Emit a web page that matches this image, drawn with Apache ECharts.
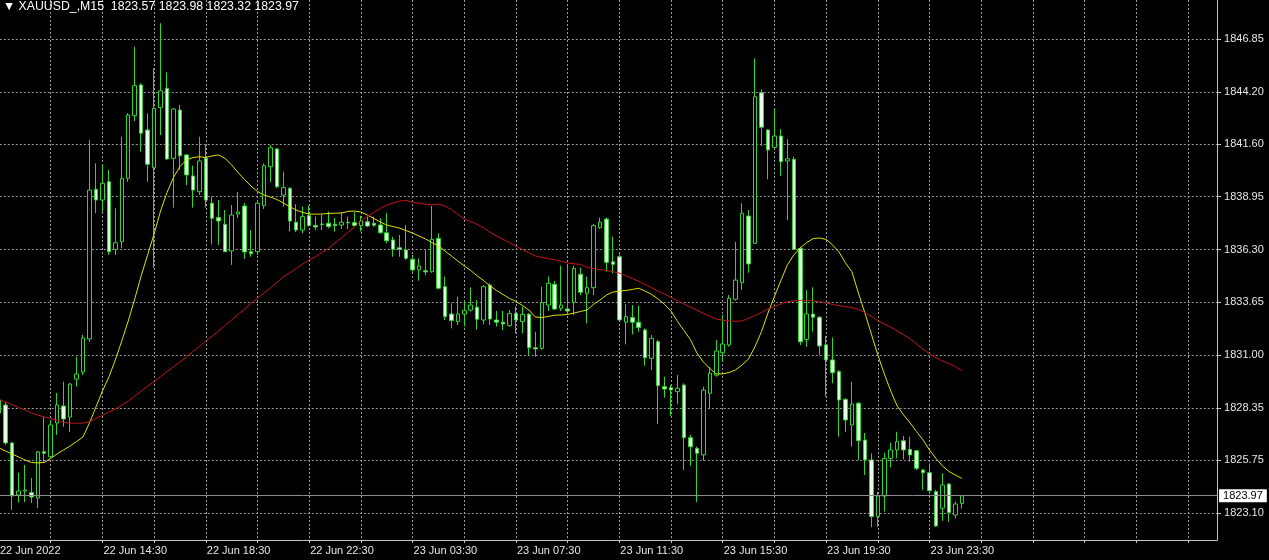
<!DOCTYPE html>
<html><head><meta charset="utf-8">
<script src="https://cdn.jsdelivr.net/npm/echarts@6/dist/echarts.min.js"></script>
<style>html,body{margin:0;padding:0;background:#000;}#c{width:1269px;height:560px;}</style>
</head><body><div id="c"></div>
<script>
const symbolName = 'XAUUSD_,M15';
// x-axis labels shown every 16 bars (4 hours)
const tickLabels = ['22 Jun 2022','22 Jun 14:30','22 Jun 18:30','22 Jun 22:30','23 Jun 03:30','23 Jun 07:30','23 Jun 11:30','23 Jun 15:30','23 Jun 19:30','23 Jun 23:30'];
// price axis labels
const priceTicks = [1846.85,1844.20,1841.60,1838.95,1836.30,1833.65,1831.00,1828.35,1825.75,1823.10];

const opens = [1828.76,1828.51,1826.61,1824.00,1824.20,1824.12,1823.85,1826.17,1825.92,1827.61,1828.46,1827.91,1829.81,1830.17,1831.82,1839.32,1838.78,1839.70,1836.31,1836.69,1839.87,1843.01,1844.55,1842.29,1840.40,1843.41,1844.38,1840.87,1843.29,1841.04,1839.99,1839.20,1840.87,1838.62,1837.90,1837.57,1836.23,1838.08,1838.48,1836.19,1836.19,1838.50,1840.45,1841.34,1839.03,1839.37,1837.67,1837.28,1838.00,1837.50,1837.58,1837.62,1837.57,1837.53,1837.67,1837.65,1837.50,1837.69,1837.62,1837.53,1837.14,1836.78,1836.39,1836.28,1835.81,1835.28,1835.24,1835.19,1836.86,1834.44,1833.07,1832.69,1833.07,1833.27,1833.41,1832.77,1834.52,1832.77,1832.66,1832.49,1833.09,1832.69,1833.06,1831.38,1831.35,1833.52,1834.56,1833.36,1833.32,1833.66,1835.06,1834.11,1834.39,1837.40,1837.83,1835.69,1835.94,1832.66,1832.89,1832.66,1832.27,1830.85,1831.68,1829.43,1829.38,1829.18,1829.51,1826.87,1826.34,1826.01,1829.10,1830.01,1831.13,1831.52,1833.81,1834.64,1837.98,1836.61,1844.16,1842.29,1841.42,1841.99,1840.74,1840.82,1836.36,1831.80,1833.07,1832.91,1831.52,1830.77,1830.18,1828.79,1827.51,1828.60,1826.76,1825.76,1822.92,1823.95,1825.84,1826.26,1826.72,1826.29,1826.22,1825.25,1825.12,1824.17,1823.34,1824.55,1823.00,1823.57];
const closes = [1828.11,1826.61,1823.95,1824.20,1824.25,1823.90,1826.16,1826.09,1827.51,1828.51,1827.81,1829.56,1830.06,1831.87,1839.28,1838.78,1839.62,1836.19,1836.64,1839.87,1843.04,1844.51,1842.13,1840.57,1843.38,1844.25,1840.84,1843.34,1841.00,1840.04,1839.28,1840.74,1838.78,1837.87,1837.73,1836.19,1838.03,1838.18,1836.18,1836.09,1838.62,1840.50,1841.40,1839.45,1839.40,1837.73,1837.28,1837.95,1837.50,1837.43,1837.56,1837.45,1837.50,1837.67,1837.64,1837.50,1837.73,1837.48,1837.52,1837.14,1836.74,1836.31,1836.31,1835.86,1835.28,1835.48,1835.18,1836.81,1834.36,1832.94,1832.74,1833.07,1833.24,1833.52,1832.81,1834.44,1832.82,1832.66,1832.57,1833.09,1832.77,1833.06,1831.38,1831.32,1833.64,1834.61,1833.32,1833.52,1833.22,1835.36,1834.16,1834.39,1837.50,1837.67,1835.66,1835.56,1832.77,1832.94,1832.66,1832.39,1830.88,1831.85,1829.48,1829.31,1829.26,1829.35,1826.87,1826.42,1826.09,1829.26,1830.10,1831.22,1831.57,1833.86,1834.77,1838.12,1835.58,1843.96,1842.43,1841.29,1841.99,1840.70,1840.85,1836.31,1831.68,1833.07,1832.91,1831.47,1830.77,1830.13,1828.76,1827.76,1828.56,1826.72,1825.76,1822.92,1823.95,1825.84,1826.26,1826.67,1826.26,1826.01,1825.34,1825.12,1824.22,1822.45,1824.50,1823.12,1823.55,1823.97];
const lows = [1828.01,1826.51,1823.25,1823.62,1823.65,1823.60,1823.35,1825.61,1825.86,1827.01,1827.42,1827.17,1829.43,1830.01,1831.67,1838.12,1838.20,1836.03,1836.03,1836.36,1839.69,1842.74,1841.20,1839.70,1835.38,1842.04,1840.79,1838.40,1840.29,1839.53,1838.40,1839.03,1838.40,1836.56,1836.53,1836.19,1835.53,1837.88,1835.83,1835.94,1836.03,1838.33,1839.67,1839.37,1838.45,1837.20,1837.17,1837.12,1837.45,1837.28,1837.28,1837.36,1837.20,1837.33,1837.33,1837.45,1837.20,1837.42,1837.42,1837.11,1836.61,1835.94,1835.94,1835.78,1835.19,1834.74,1835.02,1835.14,1834.31,1832.77,1832.35,1832.52,1832.44,1833.19,1832.30,1832.55,1832.52,1832.44,1832.27,1832.44,1832.10,1832.10,1831.02,1830.93,1831.27,1833.22,1833.27,1833.22,1833.11,1833.02,1834.02,1832.60,1834.02,1837.33,1835.19,1835.11,1832.72,1831.55,1832.05,1832.18,1830.48,1830.26,1827.55,1828.88,1827.97,1828.55,1825.25,1825.47,1823.64,1825.71,1828.31,1829.93,1830.68,1831.43,1833.74,1834.27,1835.14,1836.58,1841.49,1839.82,1841.37,1839.99,1837.78,1836.28,1831.52,1831.43,1832.19,1831.02,1828.93,1829.60,1826.92,1827.17,1826.42,1825.76,1825.00,1822.39,1822.41,1823.17,1825.39,1825.84,1825.79,1825.67,1825.25,1824.25,1824.12,1822.41,1822.71,1822.66,1822.83,1823.32];
const highs = [1828.86,1828.66,1826.66,1825.12,1825.50,1824.85,1826.21,1827.93,1827.76,1829.11,1829.68,1829.61,1830.93,1832.02,1841.79,1840.62,1840.54,1840.29,1838.37,1841.95,1843.14,1846.46,1844.63,1843.13,1845.38,1847.64,1845.18,1843.39,1843.54,1841.09,1840.50,1841.95,1841.54,1838.95,1838.78,1838.28,1838.53,1839.18,1838.63,1837.28,1838.70,1840.62,1841.54,1841.39,1840.20,1839.43,1838.57,1838.45,1838.50,1837.95,1838.03,1838.20,1837.88,1838.17,1837.95,1838.17,1837.99,1837.95,1837.95,1837.87,1838.12,1836.94,1837.03,1837.53,1836.03,1835.86,1836.31,1838.48,1837.11,1834.94,1833.61,1833.94,1833.69,1834.41,1833.77,1834.52,1834.61,1833.22,1833.22,1833.27,1833.44,1833.44,1833.12,1832.18,1834.44,1834.94,1834.72,1835.49,1835.52,1835.48,1835.39,1834.94,1837.58,1837.90,1837.90,1836.94,1836.06,1833.56,1833.52,1833.49,1832.35,1832.02,1831.77,1829.93,1829.51,1830.01,1829.60,1827.01,1826.42,1829.43,1830.43,1831.77,1833.02,1834.02,1836.69,1838.62,1838.28,1845.88,1844.33,1842.33,1843.33,1842.33,1841.83,1840.95,1836.44,1834.27,1834.41,1832.97,1831.97,1831.90,1830.26,1828.86,1829.68,1828.66,1827.11,1826.09,1824.17,1826.12,1826.62,1827.17,1826.96,1826.92,1826.26,1825.30,1825.59,1824.25,1825.09,1824.60,1823.67,1823.98];
// yellow (fast) moving average, read per bar
const maFast = [1826.36,1826.21,1826.06,1825.91,1825.76,1825.63,1825.61,1825.63,1825.83,1826.06,1826.26,1826.46,1826.68,1826.91,1827.61,1828.41,1829.21,1829.91,1830.77,1831.72,1832.72,1833.82,1834.98,1836.03,1837.08,1838.23,1839.16,1839.91,1840.46,1840.79,1840.91,1840.95,1840.91,1840.99,1841.04,1840.86,1840.54,1840.16,1839.81,1839.48,1839.21,1839.03,1838.93,1838.81,1838.63,1838.45,1838.28,1838.16,1838.08,1838.07,1838.08,1838.11,1838.12,1838.13,1838.21,1838.23,1838.18,1838.03,1837.86,1837.68,1837.53,1837.45,1837.37,1837.25,1837.13,1836.98,1836.83,1836.65,1836.48,1836.23,1835.98,1835.73,1835.48,1835.25,1834.98,1834.75,1834.47,1834.25,1834.05,1833.85,1833.70,1833.50,1833.27,1832.92,1832.89,1832.95,1833.01,1833.02,1833.05,1833.12,1833.20,1833.27,1833.55,1833.77,1834.02,1834.17,1834.22,1834.25,1834.30,1834.36,1834.22,1834.05,1833.82,1833.55,1833.22,1832.70,1832.24,1831.79,1831.12,1830.67,1830.34,1830.07,1830.07,1830.14,1830.27,1830.52,1830.82,1831.44,1832.19,1833.12,1833.95,1834.75,1835.53,1836.03,1836.39,1836.65,1836.85,1836.88,1836.81,1836.53,1836.18,1835.63,1835.18,1834.12,1833.12,1832.07,1831.02,1830.07,1829.21,1828.46,1828.01,1827.61,1827.18,1826.76,1826.26,1825.83,1825.46,1825.18,1825.00,1824.83];
// red (slow) moving average, read per bar
const maSlow = [1828.79,1828.66,1828.54,1828.39,1828.26,1828.11,1828.01,1827.91,1827.84,1827.74,1827.65,1827.60,1827.60,1827.60,1827.67,1827.84,1827.99,1828.16,1828.31,1828.51,1828.71,1828.96,1829.21,1829.46,1829.69,1829.94,1830.19,1830.42,1830.67,1830.92,1831.19,1831.44,1831.72,1831.97,1832.22,1832.50,1832.77,1833.05,1833.32,1833.60,1833.87,1834.12,1834.37,1834.65,1834.93,1835.13,1835.35,1835.58,1835.78,1835.95,1836.15,1836.35,1836.63,1836.88,1837.16,1837.43,1837.73,1837.96,1838.16,1838.36,1838.53,1838.63,1838.73,1838.76,1838.68,1838.62,1838.57,1838.54,1838.58,1838.48,1838.31,1838.06,1837.83,1837.71,1837.56,1837.39,1837.16,1836.98,1836.81,1836.65,1836.46,1836.30,1836.13,1835.98,1835.91,1835.84,1835.78,1835.71,1835.63,1835.59,1835.55,1835.41,1835.34,1835.30,1835.25,1835.19,1835.12,1834.99,1834.85,1834.71,1834.55,1834.39,1834.22,1834.07,1833.90,1833.74,1833.57,1833.42,1833.26,1833.10,1832.97,1832.82,1832.76,1832.73,1832.70,1832.73,1832.86,1832.99,1833.15,1833.32,1833.45,1833.58,1833.69,1833.72,1833.76,1833.75,1833.72,1833.69,1833.62,1833.55,1833.49,1833.44,1833.39,1833.30,1833.14,1832.95,1832.74,1832.57,1832.41,1832.22,1832.03,1831.83,1831.57,1831.31,1831.08,1830.88,1830.71,1830.59,1830.44,1830.22];

const SLOTS = 189; // visible bar slots including empty right margin
const MON = ['Jan','Feb','Mar','Apr','May','Jun','Jul','Aug','Sep','Oct','Nov','Dec'];
function pad(n){return (n<10?'0':'')+n;}
const categories = [];
(function(){
  let t = Date.UTC(2022,5,22,10,30);
  for (let i=0;i<SLOTS;i++){
    const d = new Date(t);
    categories.push(d.getUTCDate()+' '+MON[d.getUTCMonth()]+' '+pad(d.getUTCHours())+':'+pad(d.getUTCMinutes()));
    t += 15*60000;
    if (new Date(t).getUTCHours()===0) t += 3600000; // daily session break
  }
})();

const candles = opens.map((o,i)=>[o, closes[i], lows[i], highs[i]]);
const last = candles.length-1;
const lastClose = closes[last];
const FONT = '"Liberation Sans", Arial, "DejaVu Sans", sans-serif';
const GRID_COLOR = '#9a9a9a';
const AXIS_COLOR = '#c4c4c4';
const TEXT_COLOR = '#e6e6e6';

const chart = echarts.init(document.getElementById('c'), null, {renderer:'canvas'});
chart.setOption({
  animation:false,
  backgroundColor:'#000000',
  title:{
    text:'\u25BC ' + symbolName + '  ' + [opens[last],highs[last],lows[last],closes[last]].map(v=>v.toFixed(2)).join(' '),
    left:3, top:0, padding:0,
    textStyle:{color:'#ffffff', fontSize:12.3, fontWeight:'normal', fontFamily:FONT, lineHeight:13}
  },
  grid:{left:-4.23, top:0, width:1221.3, height:540, containLabel:false, outerBoundsMode:'none'},
  xAxis:{
    type:'category', data:categories, boundaryGap:true,
    axisLine:{show:true, lineStyle:{color:AXIS_COLOR, width:1}},
    axisTick:{show:true, alignWithLabel:true, length:3, interval:(i)=>i%8===0, lineStyle:{color:AXIS_COLOR}},
    axisLabel:{
      show:true, interval:(i)=>i%16===0 && i/16<tickLabels.length,
      formatter:(v,i)=> (i%16===0 && i/16<tickLabels.length) ? tickLabels[i/16] : '',
      align:'left', margin:5, color:TEXT_COLOR, fontSize:11, fontFamily:FONT, padding:[0,0,0,1]
    },
    splitLine:{show:true, alignWithLabel:true, interval:(i)=>i%8===0, lineStyle:{color:GRID_COLOR, type:[2,2], width:1}}
  },
  yAxis:{
    type:'value', position:'right', min:1821.747, max:1848.804, scale:true,
    axisLine:{show:true, lineStyle:{color:AXIS_COLOR, width:1}},
    axisTick:{show:true, length:4, customValues:priceTicks, lineStyle:{color:AXIS_COLOR}},
    axisLabel:{show:true, customValues:priceTicks, formatter:(v)=>v.toFixed(2), margin:7, color:TEXT_COLOR, fontSize:11, fontFamily:FONT},
    splitLine:{show:true, lineStyle:{color:GRID_COLOR, type:[2,2], width:1}}
  },
  series:[
    {
      type:'candlestick', data:candles, barWidth:4,
      itemStyle:{color:'#000000', color0:'#e4ffe4', borderColor:'#2fd62f', borderColor0:'#2fd62f', borderWidth:1},
      markLine:{
        silent:true, symbol:'none', animation:false,
        data:[{yAxis:lastClose}],
        lineStyle:{color:'#8c8c8c', type:'solid', width:1},
        label:{show:true, position:'end', distance:2, formatter:lastClose.toFixed(2), backgroundColor:'#ffffff', color:'#000000', padding:[1,4,1,4], fontSize:11, fontFamily:FONT}
      }
    },
    {type:'line', data:maFast, symbol:'none', smooth:false, lineStyle:{color:'#e0e000', width:1}, z:3},
    {type:'line', data:maSlow, symbol:'none', smooth:false, lineStyle:{color:'#c01818', width:1}, z:3}
  ]
});
</script>
</body></html>
